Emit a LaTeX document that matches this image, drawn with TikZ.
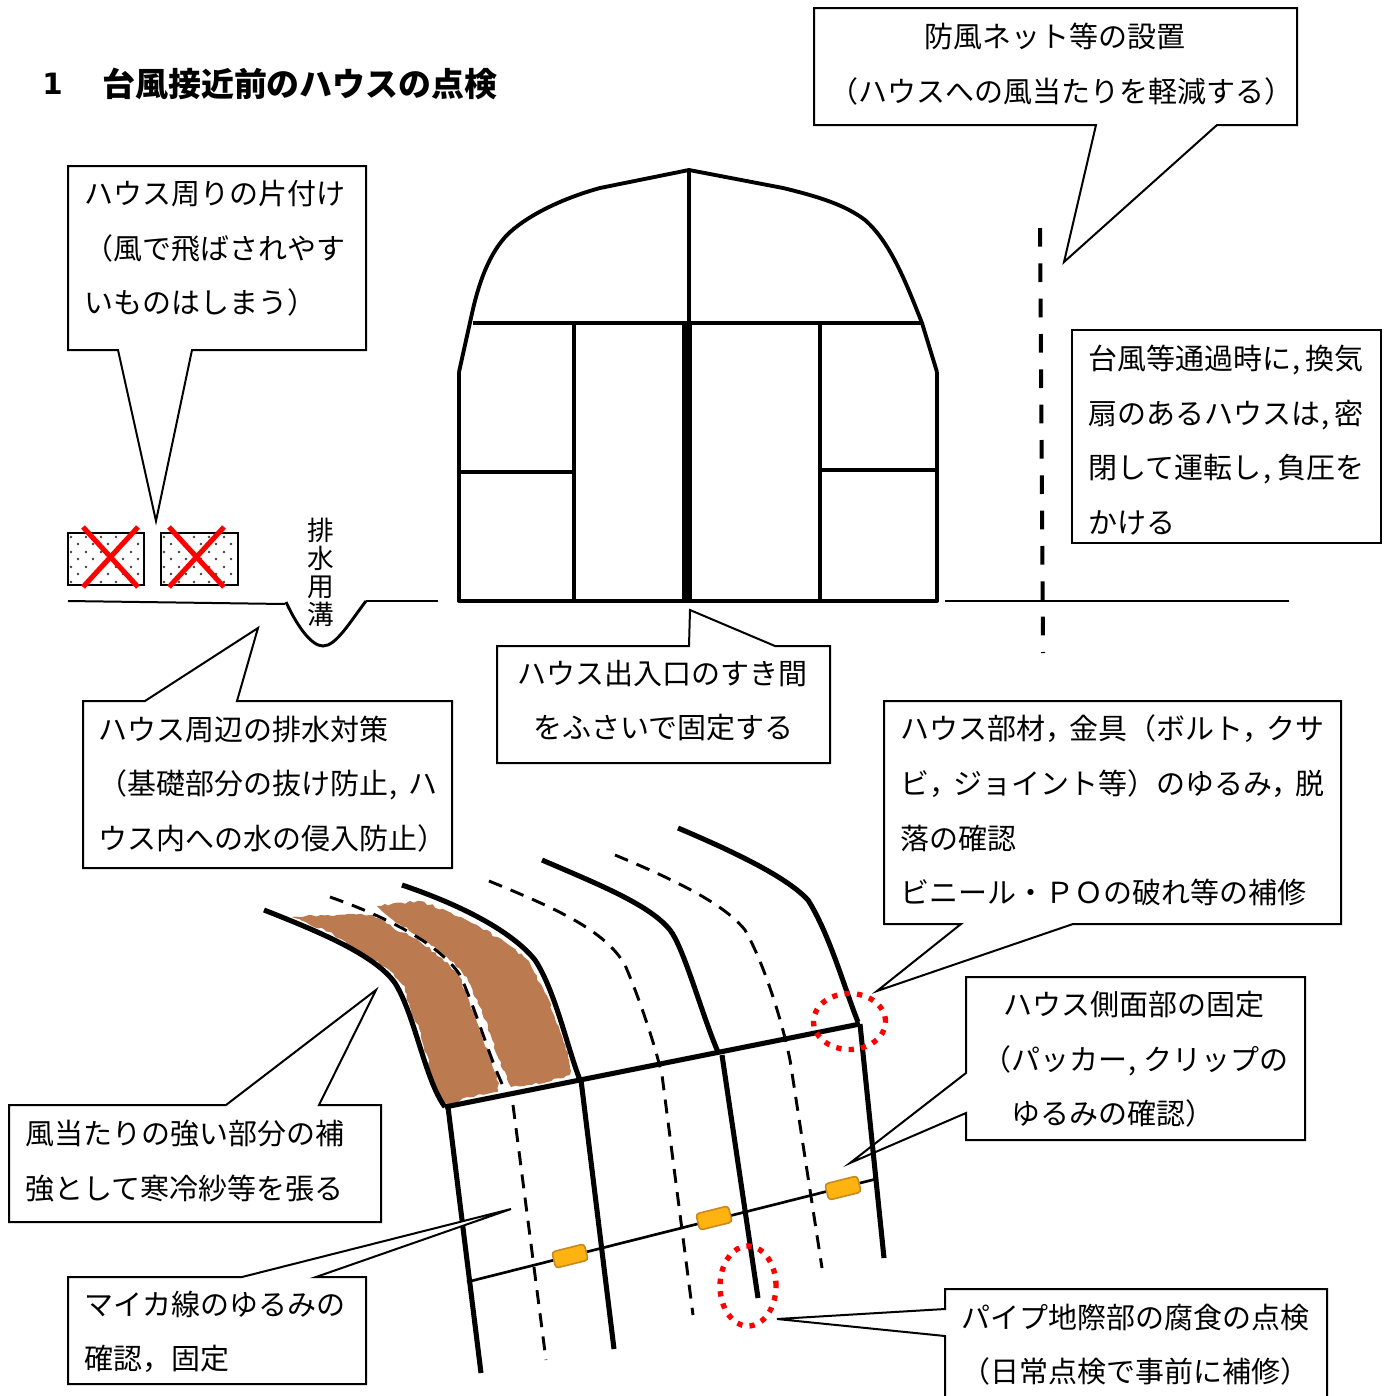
\documentclass[tikz,border=0pt]{standalone}
\usepackage{fontspec}
\usetikzlibrary{decorations.pathmorphing}
\newfontfamily\jp{Noto Sans CJK JP}
\newfontfamily\lat{DejaVu Sans}
\definecolor{soil}{HTML}{BC7A50}
\definecolor{clipfill}{HTML}{FFB311}
\definecolor{clipedge}{HTML}{C88A20}
\tikzset{
  x=0.75pt,y=-0.75pt,
  label/.style={font=\jp\fontsize{21.75}{40.9}\selectfont,inner sep=0pt,align=left,anchor=west,text=black},
  labelc/.style={label,align=center,anchor=center},
  balloon/.style={draw=black,line width=1.5pt,fill=white,line join=miter},
  frame/.style={draw=black,line width=2.9pt,line join=round},
  rafter/.style={draw=black,line width=3.8pt,line join=round},
  dashrafter/.style={draw=black,line width=2.2pt,dash pattern=on 10.5pt off 7pt},
  redmark/.style={draw=red,line width=3.8pt},
  reddots/.style={draw=red,line width=4pt,dash pattern=on 4pt off 5.4pt},
  storebox/.style={draw=black,line width=1.6pt},
  wireclip/.style={draw=clipedge,fill=clipfill,line width=1.2pt,rounded corners=2.5pt,minimum width=25pt,minimum height=12.5pt,inner sep=0pt,rotate=14},
  soilpatch/.style={fill=soil,decorate,decoration={random steps,segment length=3pt,amplitude=1pt}}
}
% narrow commas of the original's proportional type
\newcommand{\nc}{\kern1.2pt,\kern3.3pt}
\newcommand{\wc}{，\kern-3.75pt}
\begin{document}
\begin{tikzpicture}
\useasboundingbox (0,0) rectangle (1389,1396);
\fill[white] (0,0) rectangle (1389,1396);

% title
\node[inner sep=0pt,anchor=west,font=\lat\bfseries\fontsize{22}{26}\selectfont] (titlenum) at (42,84) {1};
\node[inner sep=0pt,anchor=west,font=\jp\bfseries\fontsize{24.7}{30}\selectfont] (title) at (102,84) {台風接近前のハウスの点検};

% house
\draw[frame] (459,372) -- (459,601) -- (937,601) -- (937,372);
\draw[frame] (459,372) -- (471,318) .. controls (479,280) and (490,253) .. (507,235) .. controls (525,217) and (560,199) .. (600,188) -- (689,170)
  -- (783,188) .. controls (820,197) and (845,205) .. (865,220) .. controls (890,242) and (905,280) .. (922,323) -- (937,372);
\draw[frame] (473,323) -- (922,323);
\draw[frame] (689,170) -- (689,323);
\draw[draw=black,line width=7.5pt] (687,323) -- (687,601);
\draw[frame] (574,323) -- (574,601);
\draw[frame] (820,323) -- (820,601);
\draw[frame] (459,472) -- (574,472);
\draw[frame] (820,470) -- (937,470);

% windbreak net and ground on the right
\draw[draw=black,line width=3pt,dash pattern=on 14pt off 12.5pt] (1040,228) -- (1043,653);
\draw[draw=black,line width=1.5pt] (945,601) -- (1289,601);

% ground and ditch on the left
\draw[draw=black,line width=1.5pt] (68,601) -- (285,604);
\draw[draw=black,line width=2.2pt] (286,602) .. controls (298,628) and (312,646) .. (323,646) .. controls (336,646) and (350,622) .. (366,601);
\draw[draw=black,line width=1.5pt] (366,601) -- (438,601);
\node[font=\jp\fontsize{20}{21}\selectfont,inner sep=0pt,align=center] (ditch) at (321,572) {排\\水\\用\\溝};

% stored objects
\foreach \ox/\oy in {68/76,161/77}{
  \begin{scope}
    \clip (\ox,533) rectangle ++(\oy,52);
    \foreach \i in {0,...,5}{
      \foreach \j in {0,...,4}{
        \fill[black!75] ({\ox+3+\i*15},{537+\j*15}) circle (1pt);
        \fill[black!75] ({\ox+10+\i*15},{544+\j*15}) circle (1pt);
      }
    }
  \end{scope}
  \draw[storebox] (\ox,533) rectangle ++(\oy,52);
}
\draw[redmark] (83,527) -- (138,587);
\draw[redmark] (138,527) -- (83,587);
\draw[redmark] (169,527) -- (224,587);
\draw[redmark] (224,527) -- (169,587);

% balloons
\draw[balloon] (814,8) -- (1297,8) -- (1297,125) -- (1217,125) -- (1064,262) -- (1096,125) -- (814,125) -- cycle;
\node[labelc] (tnet) at (1055,64) {防風ネット等の設置\\\hspace*{10pt}（ハウスへの風当たりを軽減する）};

\draw[balloon] (68,166) -- (366,166) -- (366,350) -- (192,350) -- (156,521) -- (118,350) -- (68,350) -- cycle;
\node[label] (tclear) at (84,248.5) {ハウス周りの片付け\\（風で飛ばされやす\\いものはしまう）};

\draw[balloon] (1072,330) rectangle (1381,543);
\node[label] (tfan) at (1088,440) {台風等通過時に\nc 換気\\扇のあるハウスは\nc 密\\閉して運転し\nc\kern1.5pt 負圧を\\かける};

\draw[balloon] (83,701) -- (145,701) -- (258,628) -- (237,701) -- (452,701) -- (452,868) -- (83,868) -- cycle;
\node[label] (tdrain) at (98,784) {ハウス周辺の排水対策\\（基礎部分の抜け防止\kern1pt,\kern8pt ハ\\ウス内への水の侵入防止）};

\draw[balloon] (497,646) -- (689,646) -- (690,610) -- (775,646) -- (830,646) -- (830,763) -- (497,763) -- cycle;
\node[labelc] (tdoor) at (662,700.5) {ハウス出入口のすき間\\\hspace*{2pt}をふさいで固定する};

\draw[balloon] (884,701) -- (1341,701) -- (1341,924) -- (1073,924) -- (877,991) -- (961,924) -- (884,924) -- cycle;
\node[label] (tparts) at (900,810.5) {ハウス部材\wc 金具（ボルト\wc クサ\\ビ\wc ジョイント等）のゆるみ\wc 脱\\落の確認\\ビニール・ＰＯの破れ等の補修};

\draw[balloon] (966,977) -- (1305,977) -- (1305,1140) -- (966,1140) -- (966,1113) -- (850,1163) -- (966,1073) -- cycle;
\node[label] (tside) at (982,1059.5) {\hspace*{16pt}ハウス側面部の固定\\（パッカー\kern1pt,\kern5pt クリップの\\\hspace*{22pt}ゆるみの確認）};

\draw[balloon] (9,1105) -- (226,1105) -- (376,990) -- (319,1105) -- (381,1105) -- (381,1222) -- (9,1222) -- cycle;
\node[label] (twind) at (25,1161) {風当たりの強い部分の補\\強として寒冷紗等を張る};

% greenhouse side view
\begin{scope}
  \pgfmathsetseed{7}
  \path[soilpatch] (292,917) -- (337,915) -- (373,915) -- (392,927) -- (419,941) -- (442,958) -- (459,976) -- (469,1000) -- (479,1027) -- (489,1053) -- (499,1083) -- (498,1092) -- (467,1097) -- (450,1105)
     -- (440,1098) -- (431,1073) -- (421,1033) -- (411,1010) -- (403,985) -- (388,969) -- (365,955) -- (341,939) -- (325,930) -- cycle;
  \path[soilpatch] (377,906) -- (420,901) -- (447,911) -- (477,925) -- (509,945) -- (529,961) -- (545,993) -- (559,1027) -- (569,1060) -- (570,1075) -- (547,1082) -- (511,1087) -- (503,1070)
     -- (490,1033) -- (480,1007) -- (467,977) -- (447,957) -- (420,937) -- (393,920) -- cycle;
\end{scope}

\draw[dashrafter] (330,897) .. controls (390,918) and (440,945) .. (460,975) .. controls (478,1015) and (490,1060) .. (505,1090);
\draw[dashrafter] (513,1105) -- (546,1360);
\draw[dashrafter] (489,881) .. controls (555,908) and (605,930) .. (625,965) .. controls (640,1000) and (655,1045) .. (662,1075) -- (693,1315);
\draw[dashrafter] (615,855) .. controls (680,882) and (725,905) .. (745,930) .. controls (765,965) and (783,1025) .. (790,1060) -- (822,1268);

\draw[rafter] (264,910) .. controls (320,932) and (375,955) .. (395,983) .. controls (415,1015) and (425,1080) .. (445,1107);
\draw[rafter] (402,885) .. controls (470,908) and (515,935) .. (535,960) .. controls (555,990) and (568,1050) .. (580,1080);
\draw[rafter] (542,860) .. controls (600,885) and (650,905) .. (670,930) .. controls (684,948) and (702,1015) .. (718,1052);
\draw[rafter] (678,828) .. controls (725,848) and (785,875) .. (808,900) .. controls (830,935) and (845,990) .. (858,1022);
\draw[rafter] (445,1107) -- (860,1024);
\draw[rafter] (448,1107) -- (481,1373);
\draw[rafter] (581,1080) -- (614,1349);
\draw[rafter] (722,1055) -- (758,1298);
\draw[rafter] (860,1024) -- (884,1258);

% mica wire
\coordinate (wirea) at (467,1282);
\coordinate (wireb) at (876,1179);
\draw[draw=black,line width=2pt] (wirea) -- (wireb);
\node[wireclip] (clipa) at (570,1256) {};
\node[wireclip] (clipb) at (714,1218) {};
\node[wireclip] (clipc) at (843,1188) {};

% red check marks
\draw[reddots] (849.5,1021.5) ellipse [x radius=27pt,y radius=21pt];
\draw[reddots] (748,1286) ellipse [x radius=21pt,y radius=30pt];

\draw[balloon] (68,1277) -- (242,1277) -- (511,1209) -- (316,1277) -- (366,1277) -- (366,1384) -- (68,1384) -- cycle;
\node[label] (tmica) at (84,1332) {マイカ線のゆるみの\\確認，固定};

\fill[white] (945,1289) rectangle (1327,1396);
\draw[balloon,fill=none] (945,1400) -- (945,1336) -- (777,1319) -- (945,1309) -- (945,1289) -- (1327,1289) -- (1327,1400);
\node[labelc] (tpipe) at (1135,1344.5) {パイプ地際部の腐食の点検\\（日常点検で事前に補修）};
\end{tikzpicture}
\end{document}
